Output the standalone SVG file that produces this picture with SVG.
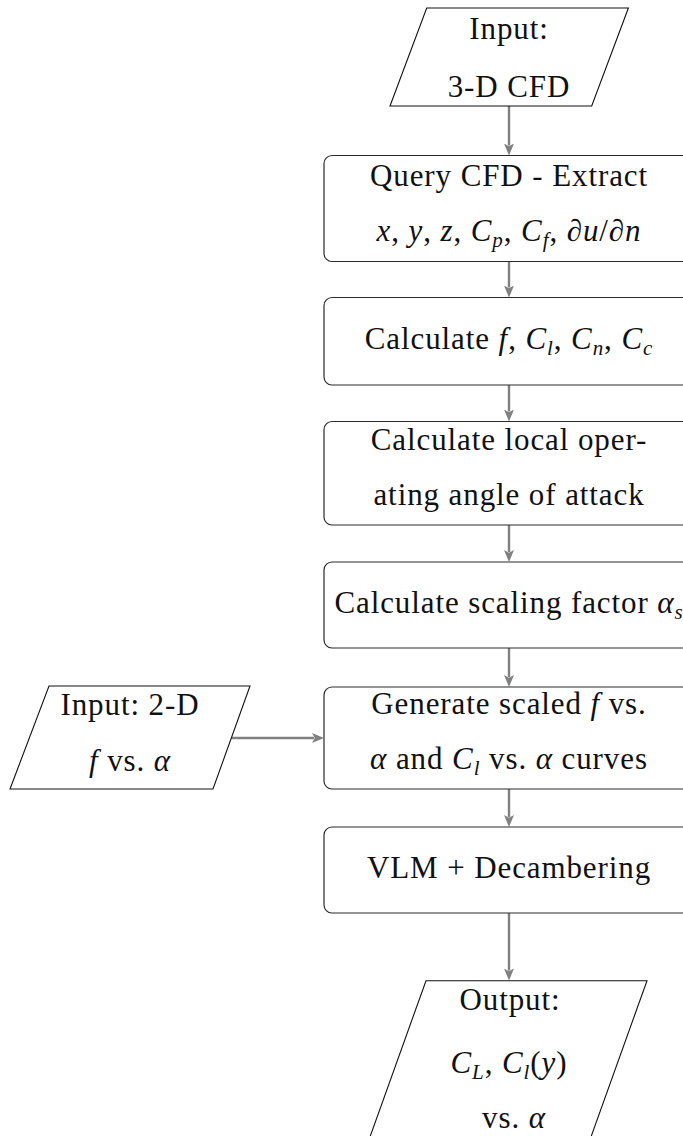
<svg xmlns="http://www.w3.org/2000/svg" width="683" height="1136" viewBox="0 0 683 1136">
<style>
  .box { fill: #ffffff; stroke: #2a2a2a; stroke-width: 1.2; }
  .io { fill: #ffffff; stroke: #111111; stroke-width: 1.1; }
  .t { font-family: "Liberation Serif", "Times New Roman", serif; font-size: 31px; letter-spacing: 0.9px; fill: #111111; text-anchor: middle; }
  .i { font-style: italic; }
  .conn { stroke: #808080; stroke-width: 2.4; fill: none; marker-end: url(#ah); }
</style>
<defs>
  <marker id="ah" markerWidth="13" markerHeight="11" refX="2" refY="5.5" orient="auto" markerUnits="userSpaceOnUse">
    <path d="M0,0.5 L12,5.5 L0,10.5 L2.8,5.5 z" fill="#808080"/>
  </marker>
</defs>
<rect width="683" height="1136" fill="#ffffff"/>

<g id="connectors">
  <line class="conn" x1="509" y1="106" x2="509" y2="145.5"/>
  <line class="conn" x1="509" y1="262" x2="509" y2="287.5"/>
  <line class="conn" x1="509" y1="385" x2="509" y2="411.5"/>
  <line class="conn" x1="509" y1="525" x2="509" y2="552"/>
  <line class="conn" x1="509" y1="648" x2="509" y2="677"/>
  <line class="conn" x1="509" y1="789" x2="509" y2="817"/>
  <line class="conn" x1="509" y1="913" x2="509" y2="970.5"/>
  <line class="conn" x1="231.5" y1="738" x2="314" y2="738"/>
</g>

<g id="input3d">
  <polygon class="io" points="426.7,8 628.4,8 591.7,106 390,106"/>
  <text class="t" x="509" y="39">Input:</text>
  <text class="t" x="509" y="96.5">3-D CFD</text>
</g>

<g id="query">
  <rect class="box" x="324" y="155.5" width="370" height="106" rx="8"/>
  <text class="t" x="509" y="185.5">Query CFD - Extract</text>
  <text class="t" x="509" y="240.5"><tspan class="i">x</tspan>, <tspan class="i">y</tspan>, <tspan class="i">z</tspan>, <tspan class="i">C</tspan><tspan class="i" font-size="21" dy="6">p</tspan><tspan dy="-6">, </tspan><tspan class="i">C</tspan><tspan class="i" font-size="21" dy="6">f</tspan><tspan dy="-6">, </tspan><tspan class="i">∂u</tspan>/<tspan class="i">∂n</tspan></text>
</g>

<g id="calcf">
  <rect class="box" x="324" y="297.5" width="370" height="87.5" rx="8"/>
  <text class="t" x="509" y="349">Calculate <tspan class="i">f</tspan>, <tspan class="i">C</tspan><tspan class="i" font-size="21" dy="6">l</tspan><tspan dy="-6">, </tspan><tspan class="i">C</tspan><tspan class="i" font-size="21" dy="6">n</tspan><tspan dy="-6">, </tspan><tspan class="i">C</tspan><tspan class="i" font-size="21" dy="6">c</tspan></text>
</g>

<g id="calcaoa">
  <rect class="box" x="324" y="421.5" width="370" height="103.5" rx="8"/>
  <text class="t" x="509" y="449.5">Calculate local oper-</text>
  <text class="t" x="509" y="504.5">ating angle of attack</text>
</g>

<g id="calcscale">
  <rect class="box" x="324" y="562" width="370" height="86" rx="8"/>
  <text class="t" x="509" y="613">Calculate scaling factor <tspan class="i">α</tspan><tspan class="i" font-size="21" dy="6">s</tspan></text>
</g>

<g id="generate">
  <rect class="box" x="324" y="687" width="370" height="102" rx="8"/>
  <text class="t" x="509" y="714">Generate scaled <tspan class="i">f</tspan> vs.</text>
  <text class="t" x="509" y="769"><tspan class="i">α</tspan> and <tspan class="i">C</tspan><tspan class="i" font-size="21" dy="6">l</tspan><tspan dy="-6"> vs. </tspan><tspan class="i">α</tspan> curves</text>
</g>

<g id="input2d">
  <polygon class="io" points="49,686 250,686 213,789 10,789"/>
  <text class="t" x="130" y="715">Input: 2-D</text>
  <text class="t" x="130" y="770.5"><tspan class="i">f</tspan> vs. <tspan class="i">α</tspan></text>
</g>

<g id="vlm">
  <rect class="box" x="324" y="827" width="370" height="86" rx="8"/>
  <text class="t" x="509" y="878">VLM + Decambering</text>
</g>

<g id="output">
  <polygon class="io" points="426,980.7 647,980.7 586.3,1150 365.3,1150"/>
  <text class="t" x="510" y="1010">Output:</text>
  <text class="t" x="509" y="1073"><tspan class="i">C</tspan><tspan class="i" font-size="21" dy="6">L</tspan><tspan dy="-6">, </tspan><tspan class="i">C</tspan><tspan class="i" font-size="21" dy="6">l</tspan><tspan dy="-6">(</tspan><tspan class="i">y</tspan>)</text>
  <text class="t" x="514" y="1128">vs. <tspan class="i">α</tspan></text>
</g>
</svg>
